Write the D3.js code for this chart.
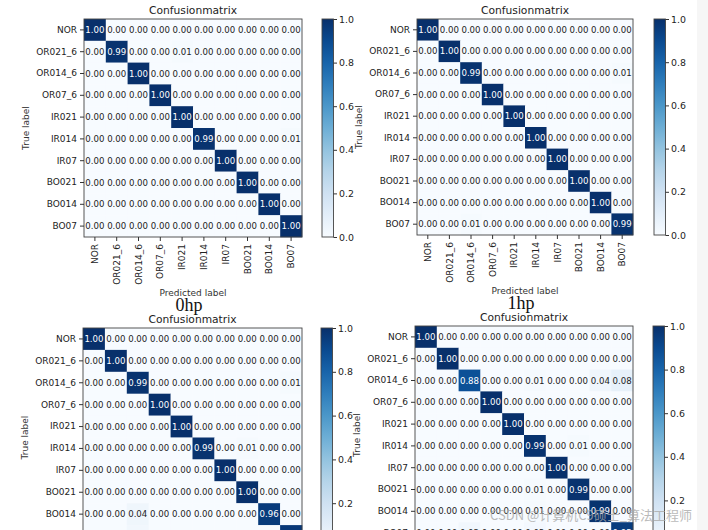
<!DOCTYPE html>
<html>
<head>
<meta charset="utf-8">
<script src="https://cdn.jsdelivr.net/npm/d3@7"></script>
<style>
body { margin: 0; background: #fff; }
text { font-family: "DejaVu Sans", sans-serif; }
</style>
</head>
<body>
<div id="chart-div"></div>
<script>
// class names, same order on both axes
const classes = ["NOR", "OR021_6", "OR014_6", "OR07_6", "IR021", "IR014", "IR07", "BO021", "BO014", "BO07"];

const matrixTopLeft = [
    [1.00, 0, 0, 0, 0, 0, 0, 0, 0, 0],
    [0, 0.99, 0, 0, 0.01, 0, 0, 0, 0, 0],
    [0, 0, 1.00, 0, 0, 0, 0, 0, 0, 0],
    [0, 0, 0, 1.00, 0, 0, 0, 0, 0, 0],
    [0, 0, 0, 0, 1.00, 0, 0, 0, 0, 0],
    [0, 0, 0, 0, 0, 0.99, 0, 0, 0, 0.01],
    [0, 0, 0, 0, 0, 0, 1.00, 0, 0, 0],
    [0, 0, 0, 0, 0, 0, 0, 1.00, 0, 0],
    [0, 0, 0, 0, 0, 0, 0, 0, 1.00, 0],
    [0, 0, 0, 0, 0, 0, 0, 0, 0, 1.00]
];

const matrixTopRight = [
    [1.00, 0, 0, 0, 0, 0, 0, 0, 0, 0],
    [0, 1.00, 0, 0, 0, 0, 0, 0, 0, 0],
    [0, 0, 0.99, 0, 0, 0, 0, 0, 0, 0.01],
    [0, 0, 0, 1.00, 0, 0, 0, 0, 0, 0],
    [0, 0, 0, 0, 1.00, 0, 0, 0, 0, 0],
    [0, 0, 0, 0, 0, 1.00, 0, 0, 0, 0],
    [0, 0, 0, 0, 0, 0, 1.00, 0, 0, 0],
    [0, 0, 0, 0, 0, 0, 0, 1.00, 0, 0],
    [0, 0, 0, 0, 0, 0, 0, 0, 1.00, 0],
    [0, 0, 0.01, 0, 0, 0, 0, 0, 0, 0.99]
];

const matrixBottomLeft = [
    [1.00, 0, 0, 0, 0, 0, 0, 0, 0, 0],
    [0, 1.00, 0, 0, 0, 0, 0, 0, 0, 0],
    [0, 0, 0.99, 0, 0, 0, 0, 0, 0, 0.01],
    [0, 0, 0, 1.00, 0, 0, 0, 0, 0, 0],
    [0, 0, 0, 0, 1.00, 0, 0, 0, 0, 0],
    [0, 0, 0, 0, 0, 0.99, 0, 0.01, 0, 0],
    [0, 0, 0, 0, 0, 0, 1.00, 0, 0, 0],
    [0, 0, 0, 0, 0, 0, 0, 1.00, 0, 0],
    [0, 0, 0.04, 0, 0, 0, 0, 0, 0.96, 0],
    [0, 0, 0.03, 0, 0, 0, 0, 0, 0, 0.97]
];

const matrixBottomRight = [
    [1.00, 0, 0, 0, 0, 0, 0, 0, 0, 0],
    [0, 1.00, 0, 0, 0, 0, 0, 0, 0, 0],
    [0, 0, 0.88, 0, 0, 0.01, 0, 0, 0.04, 0.08],
    [0, 0, 0, 1.00, 0, 0, 0, 0, 0, 0],
    [0, 0, 0, 0, 1.00, 0, 0, 0, 0, 0],
    [0, 0, 0, 0, 0, 0.99, 0, 0.01, 0, 0],
    [0, 0, 0, 0, 0, 0, 1.00, 0, 0, 0],
    [0, 0, 0, 0, 0, 0.01, 0, 0.99, 0, 0],
    [0, 0, 0, 0, 0, 0.01, 0, 0, 0.99, 0],
    [0, 0, 0.03, 0, 0, 0.02, 0, 0, 0, 0.95]
];

const colorbarTicks = [0, 0.2, 0.4, 0.6, 0.8, 1.0];
const captions = ["0hp", "1hp"];

const width = 708;
const height = 530;

const color = d3.scaleSequential(d3.interpolateBlues).domain([0, 1]);

const svg = d3.select("#chart-div")
    .append("svg")
    .attr("width", width)
    .attr("height", height);

svg.append("rect")
    .attr("width", width)
    .attr("height", height)
    .style("fill", "#fff");

// faint grey strip on the right edge of the screenshot
svg.append("rect")
    .attr("x", 697)
    .attr("width", width - 697)
    .attr("height", height)
    .style("fill", "#f6f6f6");

// gradient used by every colorbar
const grad = svg.append("defs").append("linearGradient")
    .attr("id", "blues")
    .attr("x1", 0).attr("y1", 1)
    .attr("x2", 0).attr("y2", 0);
d3.range(0, 1.0001, 0.1).forEach(t => {
    grad.append("stop")
        .attr("offset", t)
        .attr("stop-color", color(t));
});

drawMatrix(matrixTopLeft, 84, 19, 218, 322, captions[0], true);
drawMatrix(matrixTopRight, 417, 19, 216, 654, captions[1], true);
drawMatrix(matrixBottomLeft, 83, 328, 219, 321, null, false);
drawMatrix(matrixBottomRight, 415, 326, 218, 653, null, false);

// watermark
svg.append("text")
    .attr("x", 490)
    .attr("y", 520)
    .style("font-family", "'Noto Sans CJK SC', 'DejaVu Sans', sans-serif")
    .style("font-size", "13px")
    .style("fill", "#aaa")
    .style("opacity", 0.8)
    .text("CSDN @计算机C9硕士_算法工程师");


function drawMatrix(matrix, left, top, size, cbLeft, caption, showXLabels) {
    const g = svg.append("g");
    const n = classes.length;

    const xScale = d3.scaleBand()
        .domain(d3.range(n))
        .range([left, left + size]);
    const yScale = d3.scaleBand()
        .domain(d3.range(n))
        .range([top, top + size]);

    const cells = [];
    matrix.forEach((row, i) => row.forEach((v, j) => cells.push({ i, j, v })));

    g.selectAll("rect.cell").data(cells).enter().append("rect")
        .attr("class", "cell")
        .attr("x", d => xScale(d.j))
        .attr("y", d => yScale(d.i))
        .attr("width", xScale.bandwidth() + 0.3)
        .attr("height", yScale.bandwidth() + 0.3)
        .style("fill", d => color(d.v));

    g.selectAll("text.cell").data(cells).enter().append("text")
        .attr("class", "cell")
        .attr("x", d => xScale(d.j) + xScale.bandwidth() / 2)
        .attr("y", d => yScale(d.i) + yScale.bandwidth() / 2)
        .attr("dy", "0.35em")
        .attr("text-anchor", "middle")
        .style("font-size", "8.6px")
        .style("fill", d => d.v > 0.5 ? "#fff" : "#222")
        .text(d => d.v.toFixed(2));

    // frame
    g.append("rect")
        .attr("x", left)
        .attr("y", top)
        .attr("width", size)
        .attr("height", size)
        .style("fill", "none")
        .style("stroke", "#444")
        .style("stroke-width", 0.9);

    const yAxis = g.append("g")
        .attr("transform", "translate(" + left + ",0)")
        .attr("color", "#333")
        .call(d3.axisLeft(yScale).tickSize(4).tickPadding(3).tickFormat(i => classes[i]));
    yAxis.select(".domain").remove();
    yAxis.selectAll("text").style("font-size", "9px").style("fill", "#222");

    g.append("text")
        .attr("transform", "translate(" + (left - 58) + "," + (top + size / 2) + ") rotate(-90)")
        .attr("text-anchor", "middle")
        .attr("dy", "0.35em")
        .style("font-size", "9px")
        .style("fill", "#333")
        .text("True label");

    g.append("text")
        .attr("x", left + size / 2)
        .attr("y", top - 5)
        .attr("text-anchor", "middle")
        .style("font-size", "10.7px")
        .style("fill", "#222")
        .text("Confusionmatrix");

    if (showXLabels) {
        const xAxis = g.append("g")
            .attr("transform", "translate(0," + (top + size) + ")")
            .attr("color", "#333")
            .call(d3.axisBottom(xScale).tickSize(4).tickPadding(3).tickFormat(i => classes[i]));
        xAxis.select(".domain").remove();
        xAxis.selectAll("text")
            .attr("transform", "rotate(-90)")
            .attr("text-anchor", "end")
            .attr("x", -7)
            .attr("y", 0)
            .attr("dy", "0.35em")
            .style("font-size", "9px")
            .style("fill", "#222");

        g.append("text")
            .attr("x", left + size / 2)
            .attr("y", top + size + 59)
            .attr("text-anchor", "middle")
            .style("font-size", "9px")
            .style("fill", "#333")
            .text("Predicted label");
    }

    if (caption) {
        g.append("text")
            .attr("x", left + size / 2 - 4)
            .attr("y", top + size + 74)
            .attr("text-anchor", "middle")
            .style("font-family", "'Liberation Serif', serif")
            .style("font-size", "18px")
            .style("fill", "#111")
            .text(caption);
    }

    // colorbar
    const cbWidth = 11.5;
    g.append("rect")
        .attr("x", cbLeft)
        .attr("y", top)
        .attr("width", cbWidth)
        .attr("height", size)
        .style("fill", "url(#blues)")
        .style("stroke", "#444")
        .style("stroke-width", 0.9);

    const cbScale = d3.scaleLinear()
        .domain([0, 1])
        .range([top + size, top]);
    const cbAxis = g.append("g")
        .attr("transform", "translate(" + (cbLeft + cbWidth) + ",0)")
        .attr("color", "#333")
        .call(d3.axisRight(cbScale).tickValues(colorbarTicks).tickSize(3.5).tickPadding(2).tickFormat(d3.format(".1f")));
    cbAxis.select(".domain").remove();
    cbAxis.selectAll("text").style("font-size", "9.4px").style("fill", "#222");
}
</script>
</body>
</html>
